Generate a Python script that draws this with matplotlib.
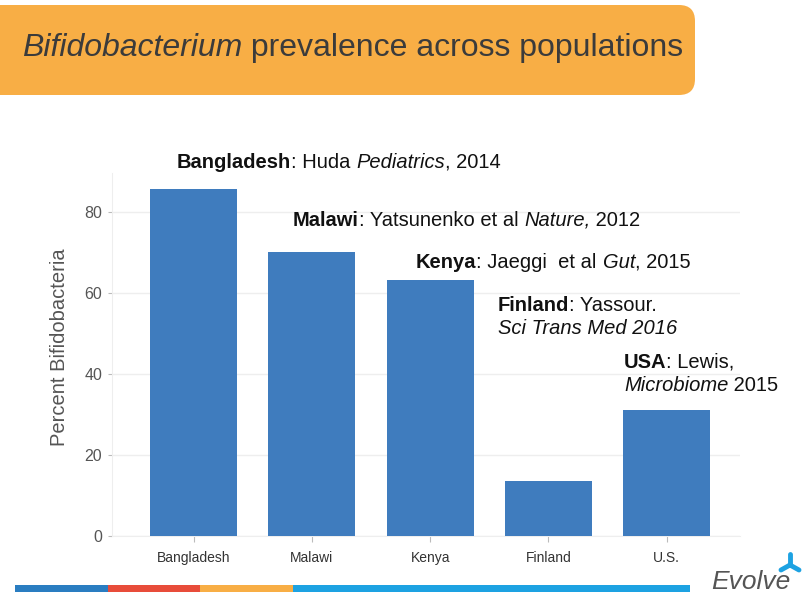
import matplotlib
matplotlib.use("Agg")
import matplotlib.pyplot as plt
from matplotlib.patches import FancyBboxPatch, Rectangle
from matplotlib.offsetbox import TextArea, HPacker, VPacker, AnnotationBbox
from matplotlib.lines import Line2D

categories = ["Bangladesh", "Malawi", "Kenya", "Finland", "U.S."]
values = [85.7, 70.2, 63.3, 13.6, 31.1]
yticks = [0, 20, 40, 60, 80]

W, H = 802, 593
fig = plt.figure(figsize=(W / 100, H / 100), dpi=100)
plt.rcParams['font.family'] = ['Liberation Sans', 'DejaVu Sans']

# header band
hdr = FancyBboxPatch((-30, H - 95), 30 + 695, 90, boxstyle="round,pad=0,rounding_size=16",
                     transform=None, facecolor="#F8AE45", edgecolor="none")
fig.patches.append(hdr)

def px(x, y_top):
    return (x, H - y_top)

title = HPacker(children=[
    TextArea("Bifidobacterium", textprops=dict(fontsize=23, style="italic", color="#3b3b3b")),
    TextArea(" prevalence across populations", textprops=dict(fontsize=23, color="#3b3b3b")),
], align="baseline", pad=0, sep=0)
ab = AnnotationBbox(title, px(22, 57), xycoords="figure pixels", box_alignment=(0, 0.2),
                    frameon=False, pad=0)
fig.add_artist(ab)

ax = fig.add_axes([112 / W, 1 - 536 / H, (740 - 112) / W, (536 - 173) / H])
x = list(range(len(categories)))
ax.bar(x, values, width=0.735, color="#3F7CBE", zorder=3)
ax.set_xlim(-0.69, 4.62)
ax.set_ylim(0, 89.6)
ax.set_yticks(yticks)
ax.set_yticklabels([str(t) for t in yticks], fontsize=11.5, color="#555555")
ax.set_xticks(x)
ax.set_xticklabels(categories, fontsize=10, color="#333333")
ax.tick_params(axis="y", length=3, color="#bbbbbb", pad=4)
ax.tick_params(axis="x", length=4, color="#bbbbbb", pad=7)
ax.grid(axis="y", color="#eeeeee", linewidth=1, zorder=0)
for s in ["top", "right"]:
    ax.spines[s].set_visible(False)
ax.spines["left"].set_color("#eeeeee")
ax.spines["bottom"].set_color("#eeeeee")
ax.set_ylabel("Percent Bifidobacteria", fontsize=14.5, color="#555555")
ax.yaxis.set_label_coords(-0.068, 0.52)

def txt(s, w="normal", st="normal"):
    return TextArea(s, textprops=dict(fontsize=14.5, weight=w, style=st, color="#111111"))

def place(lines, x_left, baseline_top):
    rows = [HPacker(children=l, align="baseline", pad=0, sep=0) for l in lines]
    box = VPacker(children=rows, align="left", pad=0, sep=3) if len(rows) > 1 else rows[0]
    a = AnnotationBbox(box, px(x_left, baseline_top - 15), xycoords="figure pixels",
                       box_alignment=(0, 1), frameon=False, pad=0)
    fig.add_artist(a)

place([[txt("Bangladesh", "bold"), txt(": Huda "), txt("Pediatrics", st="italic"), txt(", 2014")]], 177, 168)
place([[txt("Malawi", "bold"), txt(": Yatsunenko et al "), txt("Nature,", st="italic"), txt(" 2012")]], 293, 226)
place([[txt("Kenya", "bold"), txt(": Jaeggi  et al "), txt("Gut", st="italic"), txt(", 2015")]], 416, 268)
place([[txt("Finland", "bold"), txt(": Yassour.")], [txt("Sci Trans Med 2016", st="italic")]], 498, 311)
place([[txt("USA", "bold"), txt(": Lewis,")], [txt("Microbiome", st="italic"), txt(" 2015")]], 624, 368)

# bottom stripe
for x0, x1, c in [(15, 108, "#2A7DC1"), (108, 200, "#E84C3A"), (200, 293, "#F8AE45"), (293, 690, "#1DA2E2")]:
    fig.patches.append(Rectangle((x0, H - 592), x1 - x0, 7, transform=None, facecolor=c, edgecolor="none"))

fig.text(711 / W, 1 - 589 / H, "Evolve", fontsize=19, style="italic", color="#555555", ha="left", va="baseline")
cx, cy = 790, H - 565
for dx, dy in [(0, 11), (9, -5), (-9, -5)]:
    fig.add_artist(Line2D([cx, cx + dx], [cy, cy + dy], transform=None, color="#1DA2E2",
                          linewidth=3.5, solid_capstyle="round"))

fig.savefig("out.png", dpi=100)
